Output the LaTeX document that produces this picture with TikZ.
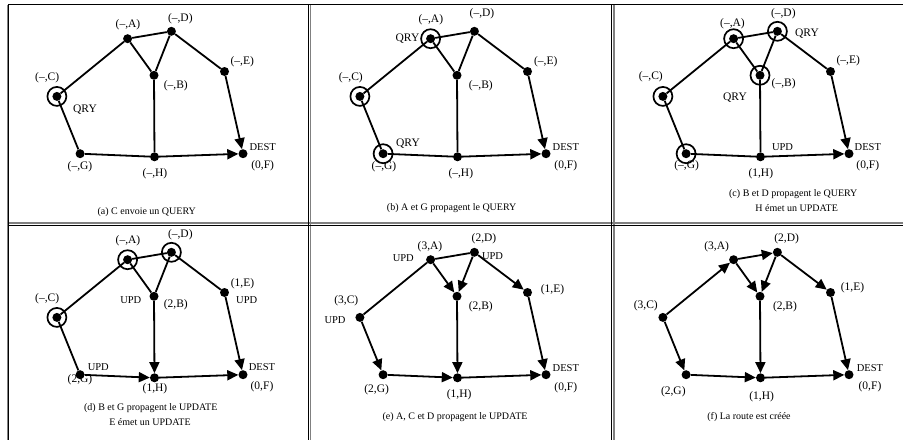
\documentclass[tikz,border=0pt]{standalone}
\usepackage{fontspec}
\setmainfont{Liberation Serif}
\usetikzlibrary{arrows.meta}
\tikzset{
 dot/.style={circle,fill=black,inner sep=0pt,minimum size=9pt},
 ring/.style={draw=black,line width=1.7pt,circle,inner sep=0pt,minimum size=19pt},
 edge/.style={line width=1.8pt},
 arr/.style={edge,-{Triangle[length=11pt,width=10pt]}},
 lbl/.style={font=\fontsize{11.5}{13}\selectfont,inner sep=0pt},
 qry/.style={font=\fontsize{11.5}{13}\selectfont,inner sep=0pt},
 plain/.style={font=\fontsize{10.5}{12}\selectfont,inner sep=0pt},
 captxt/.style={font=\fontsize{10}{12}\selectfont,inner sep=0pt},
 blk/.style={line width=1.2pt,black},
 gry/.style={line width=1.2pt,black!50},
}
\newcommand\mknodes[1]{%
 \node[dot] (#1A) at (127.6,38.7) {};
 \node[dot] (#1D) at (171.4,31.3) {};
 \node[dot] (#1B) at (154,75.3) {};
 \node[dot] (#1E) at (224.5,71.5) {};
 \node[dot] (#1C) at (56.9,96.4) {};
 \node[dot] (#1G) at (80.1,153.7) {};
 \node[dot] (#1H) at (154.5,156.8) {};
 \node[dot] (#1F) at (243,153.7) {};
}
\begin{document}
\begin{tikzpicture}[x=1pt,y=-1pt]
\useasboundingbox (0,0) rectangle (903,440);
% frames
\draw[gry] (7.3,4.5) -- (7.3,440);
\draw[gry] (310.8,4.5) -- (310.8,440);
\draw[gry] (613.9,4.5) -- (613.9,440);
\draw[gry] (8.5,223) -- (903,223);
\draw[blk] (8.5,4.3) -- (903,4.3);
\draw[blk] (8.7,4.3) -- (8.7,440);
\draw[blk] (308.7,4.3) -- (308.7,440);
\draw[blk] (611.7,4.3) -- (611.7,440);
\draw[blk] (8.5,225.2) -- (903,225.2);

% ---------- panel a ----------
\begin{scope}
\mknodes{a}
\node[ring] (aRC) at (aC) {};
\draw[edge] (aC) -- (aA); \draw[edge] (aA) -- (aD); \draw[edge] (aA) -- (aB);
\draw[edge] (aD) -- (aB); \draw[edge] (aD) -- (aE); \draw[edge] (aC) -- (aG);
\draw[edge] (aG) -- (aH); \draw[edge] (aB) -- (aH);
\draw[arr] (aE) -- (aF); \draw[arr] (aH) -- (aF);
\node[lbl] (aLA) at (128,25) {(–,A)};
\node[lbl] (aLD) at (180.3,18.3) {(–,D)};
\node[lbl] (aLE) at (242.2,61.7) {(–,E)};
\node[lbl] (aLB) at (175.8,86) {(–,B)};
\node[lbl] (aLC) at (47.2,77.3) {(–,C)};
\node[qry] (aQ1) at (85,109.3) {QRY};
\node[lbl] (aLG) at (80,166.7) {(–,G)};
\node[lbl] (aLH) at (155,174) {(–,H)};
\node[plain] (aDS) at (262.7,146.7) {DEST};
\node[lbl] (aLF) at (262.7,166) {(0,F)};
\node[captxt] (aCap) at (146.7,211.7) {(a) C envoie un QUERY};
\end{scope}

% ---------- panel b ----------
\begin{scope}[shift={(303,0)}]
\mknodes{b}
\node[ring] (bRA) at (bA) {};
\node[ring] (bRC) at (bC) {};
\node[ring] (bRG) at (bG) {};
\draw[edge] (bC) -- (bA); \draw[edge] (bA) -- (bD); \draw[edge] (bA) -- (bB);
\draw[edge] (bD) -- (bB); \draw[edge] (bD) -- (bE); \draw[edge] (bC) -- (bG);
\draw[edge] (bG) -- (bH); \draw[edge] (bB) -- (bH);
\draw[arr] (bE) -- (bF); \draw[arr] (bH) -- (bF);
\node[lbl] (bLA) at (127.8,20) {(–,A)};
\node[lbl] (bLD) at (179,14) {(–,D)};
\node[lbl] (bLE) at (242.8,61.7) {(–,E)};
\node[lbl] (bLB) at (177.8,86) {(–,B)};
\node[lbl] (bLC) at (47.8,77.3) {(–,C)};
\node[qry] (bQ1) at (104.5,39) {QRY};
\node[qry] (bQ2) at (105,143.3) {QRY};
\node[lbl] (bLG) at (81,166.7) {(–,G)};
\node[lbl] (bLH) at (157.8,174) {(–,H)};
\node[plain] (bDS) at (262.8,146.7) {DEST};
\node[lbl] (bLF) at (262.8,166) {(0,F)};
\node[captxt] (bCap) at (148.7,208.3) {(b) A et G propagent le QUERY};
\end{scope}

% ---------- panel c ----------
\begin{scope}[shift={(606,0)}]
\mknodes{c}
\node[ring] (cRA) at (cA) {};
\node[ring] (cRD) at (cD) {};
\node[ring] (cRB) at (cB) {};
\node[ring] (cRC) at (cC) {};
\node[ring] (cRG) at (cG) {};
\draw[edge] (cC) -- (cA); \draw[edge] (cA) -- (cD); \draw[edge] (cA) -- (cB);
\draw[edge] (cD) -- (cB); \draw[edge] (cD) -- (cE); \draw[edge] (cC) -- (cG);
\draw[edge] (cG) -- (cH); \draw[edge] (cB) -- (cH);
\draw[arr] (cE) -- (cF); \draw[arr] (cH) -- (cF);
\node[lbl] (cLA) at (126.5,24) {(–,A)};
\node[lbl] (cLD) at (177.3,14) {(–,D)};
\node[qry] (cQ1) at (201,33.3) {QRY};
\node[lbl] (cLE) at (242.3,61) {(–,E)};
\node[lbl] (cLB) at (177.7,83.3) {(–,B)};
\node[lbl] (cLC) at (44.8,76.7) {(–,C)};
\node[qry] (cQ2) at (129,97.3) {QRY};
\node[plain] (cU1) at (176.5,146.7) {UPD};
\node[lbl] (cLG) at (80.7,166) {(–,G)};
\node[lbl] (cLH) at (154.8,174) {(1,H)};
\node[plain] (cDS) at (261.8,146.7) {DEST};
\node[lbl] (cLF) at (261.8,166) {(0,F)};
\node[captxt] (cCap1) at (187.3,194.3) {(c) B et D propagent le QUERY};
\node[captxt] (cCap2) at (190.7,208.3) {H émet un UPDATE};
\end{scope}

% ---------- panel d ----------
\begin{scope}[shift={(0,221)}]
\mknodes{d}
\node[ring] (dRA) at (dA) {};
\node[ring] (dRD) at (dD) {};
\node[ring] (dRC) at (dC) {};
\draw[edge] (dC) -- (dA); \draw[edge] (dA) -- (dD); \draw[edge] (dA) -- (dB);
\draw[edge] (dD) -- (dB); \draw[edge] (dD) -- (dE); \draw[edge] (dC) -- (dG);
\draw[arr] (dG) -- (dH); \draw[arr] (dB) -- (dH);
\draw[arr] (dE) -- (dF); \draw[arr] (dH) -- (dF);
\node[lbl] (dLA) at (128,20) {(–,A)};
\node[lbl] (dLD) at (180.3,13.3) {(–,D)};
\node[lbl] (dLE) at (242.5,62.3) {(1,E)};
\node[plain] (dU1) at (246.7,79) {UPD};
\node[plain] (dU2) at (130.8,79) {UPD};
\node[lbl] (dLB) at (175.8,84) {(2,B)};
\node[lbl] (dLC) at (47.2,77.3) {(–,C)};
\node[plain] (dU3) at (98.3,145.7) {UPD};
\node[lbl] (dLG) at (80,159) {(2,G)};
\node[lbl] (dLH) at (155,168) {(1,H)};
\node[plain] (dDS) at (262,145.7) {DEST};
\node[lbl] (dLF) at (262,165.7) {(0,F)};
\node[captxt] (dCap1) at (150.8,187.3) {(d) B et G propagent le UPDATE};
\node[captxt] (dCap2) at (150,201.3) {E émet un UPDATE};
\end{scope}

% ---------- panel e ----------
\begin{scope}[shift={(303,221)}]
\mknodes{e}
\draw[edge] (eC) -- (eA); \draw[edge] (eA) -- (eD);
\draw[arr] (eA) -- (eB); \draw[arr] (eD) -- (eB); \draw[arr] (eD) -- (eE);
\draw[arr] (eC) -- (eG); \draw[arr] (eG) -- (eH); \draw[arr] (eB) -- (eH);
\draw[arr] (eE) -- (eF); \draw[arr] (eH) -- (eF);
\node[lbl] (eLA) at (127,25.7) {(3,A)};
\node[plain] (eU1) at (100.3,37.3) {UPD};
\node[lbl] (eLD) at (181,17.3) {(2,D)};
\node[plain] (eU2) at (189.5,34.7) {UPD};
\node[lbl] (eLE) at (249.5,69) {(1,E)};
\node[lbl] (eLB) at (177.8,85.7) {(2,B)};
\node[lbl] (eLC) at (43.3,80) {(3,C)};
\node[plain] (eU3) at (32,99) {UPD};
\node[lbl] (eLG) at (73.7,169) {(2,G)};
\node[lbl] (eLH) at (156.2,174) {(1,H)};
\node[plain] (eDS) at (262.8,146.7) {DEST};
\node[lbl] (eLF) at (262.8,166.7) {(0,F)};
\node[captxt] (eCap) at (152,195.7) {(e) A, C et D propagent le UPDATE};
\end{scope}

% ---------- panel f ----------
\begin{scope}[shift={(606,221)}]
\mknodes{f}
\draw[arr] (fC) -- (fA); \draw[arr] (fA) -- (fD);
\draw[arr] (fA) -- (fB); \draw[arr] (fD) -- (fB); \draw[arr] (fD) -- (fE);
\draw[arr] (fC) -- (fG); \draw[arr] (fG) -- (fH); \draw[arr] (fB) -- (fH);
\draw[arr] (fE) -- (fF); \draw[arr] (fH) -- (fF);
\node[lbl] (fLA) at (110.7,25.7) {(3,A)};
\node[lbl] (fLD) at (180.7,18) {(2,D)};
\node[lbl] (fLE) at (246.5,66.3) {(1,E)};
\node[lbl] (fLB) at (179,85.7) {(2,B)};
\node[lbl] (fLC) at (39.8,84.7) {(3,C)};
\node[lbl] (fLG) at (67.3,170.7) {(2,G)};
\node[lbl] (fLH) at (155.7,175.7) {(1,H)};
\node[plain] (fDS) at (264,146.7) {DEST};
\node[lbl] (fLF) at (264,165.7) {(0,F)};
\node[captxt] (fCap) at (143,195.7) {(f) La route est créée};
\end{scope}
\end{tikzpicture}
\end{document}
